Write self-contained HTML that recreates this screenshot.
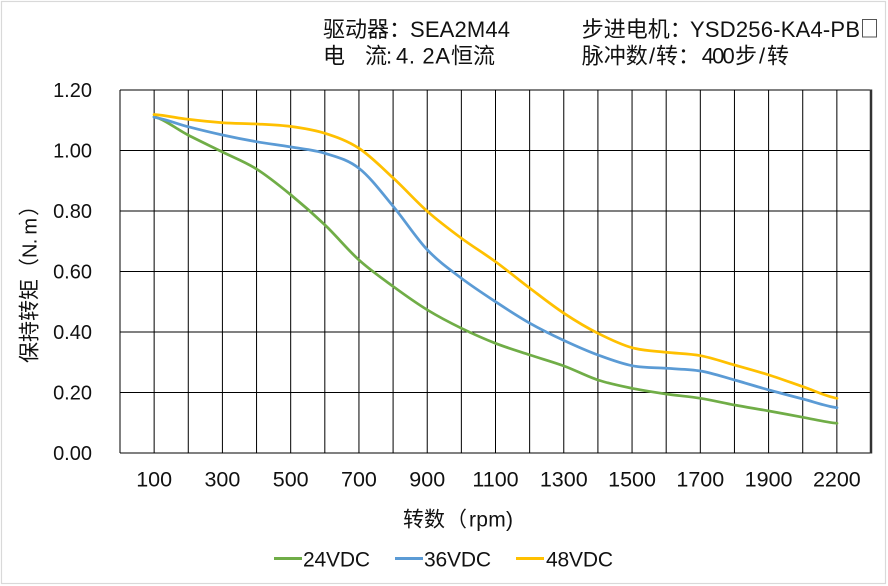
<!DOCTYPE html>
<html>
<head>
<meta charset="utf-8">
<style>
  html, body { margin: 0; padding: 0; background: #ffffff; }
  body { width: 888px; height: 586px; overflow: hidden; }
  svg { display: block; }
  text { font-family: "Liberation Sans", "Noto Sans CJK SC", sans-serif; fill: #111; }
</style>
</head>
<body>
<svg width="888" height="586" viewBox="0 0 888 586" xmlns="http://www.w3.org/2000/svg">
  <rect x="0" y="0" width="888" height="586" fill="#ffffff"/>
  <!-- outer frame -->
  <rect x="1.5" y="1.5" width="884" height="582" fill="none" stroke="#d9d9d9" stroke-width="1.2"/>

  <!-- header -->
  <g font-size="22">
    <text x="323" y="37">驱动器：</text>
    <text x="410" y="37" textLength="100" lengthAdjust="spacing">SEA2M44</text>
    <text x="581.7" y="37">步进电机：</text>
    <text x="690" y="37" textLength="170" lengthAdjust="spacing">YSD256-KA4-PB</text>
    <rect x="862.5" y="19.5" width="14" height="17.5" fill="none" stroke="#555" stroke-width="1"/>

    <text x="323" y="63.5">电</text>
    <text x="365" y="63.5">流</text>
    <text x="386" y="63.5">:</text>
    <text x="396" y="63.5" textLength="54" lengthAdjust="spacing">4. 2A</text>
    <text x="451" y="63.5">恒流</text>

    <text x="581.7" y="63.5">脉冲数</text>
    <text x="649" y="63.5">/</text>
    <text x="656" y="63.5">转：</text>
    <text x="701.7" y="63.5" textLength="33" lengthAdjust="spacing">400</text>
    <text x="735" y="63.5">步</text>
    <text x="759" y="63.5">/</text>
    <text x="767" y="63.5">转</text>
  </g>

  <!-- grid -->
  <g stroke="#000" stroke-width="1" fill="none">
    <path d="M120,90V453 M154.14,90V453 M188.27,90V453 M222.41,90V453 M256.55,90V453 M290.68,90V453 M324.82,90V453 M358.95,90V453 M393.09,90V453 M427.23,90V453 M461.36,90V453 M495.5,90V453 M529.64,90V453 M563.77,90V453 M597.91,90V453 M632.05,90V453 M666.18,90V453 M700.32,90V453 M734.45,90V453 M768.59,90V453 M802.73,90V453 M836.86,90V453"/>
    <path d="M120,90H871 M120,150.5H871 M120,211H871 M120,271.5H871 M120,332H871 M120,392.5H871 M120,453H871"/>
  </g>
  <line x1="871" y1="89.5" x2="871" y2="453.5" stroke="#333" stroke-width="2.5"/>

  <!-- y labels -->
  <g font-size="20" text-anchor="end">
    <text x="92" y="97">1.20</text>
    <text x="92" y="157.3">1.00</text>
    <text x="92" y="217.8">0.80</text>
    <text x="92" y="278.3">0.60</text>
    <text x="92" y="338.8">0.40</text>
    <text x="92" y="399.3">0.20</text>
    <text x="92" y="459.8">0.00</text>
  </g>

  <!-- x labels -->
  <g font-size="21.5" text-anchor="middle">
    <text x="154.14" y="486.5">100</text>
    <text x="222.41" y="486.5">300</text>
    <text x="290.68" y="486.5">500</text>
    <text x="358.95" y="486.5">700</text>
    <text x="427.23" y="486.5">900</text>
    <text x="495.5" y="486.5">1100</text>
    <text x="563.77" y="486.5">1300</text>
    <text x="632.05" y="486.5">1500</text>
    <text x="700.32" y="486.5">1700</text>
    <text x="768.59" y="486.5">1900</text>
    <text x="836.86" y="486.5">2200</text>
  </g>

  <!-- axis titles -->
  <g font-size="21">
    <text x="403" y="526.5">转数</text>
    <text x="446" y="526.5">（</text>
    <text x="469" y="526.5" textLength="44" lengthAdjust="spacing">rpm)</text>
  </g>
  <g font-size="21">
    <text transform="translate(36.5,363) rotate(-90)">保持转矩</text>
    <text transform="translate(36.5,279) rotate(-90)">（</text>
    <text transform="translate(36.5,258) rotate(-90)" font-size="20" textLength="40" lengthAdjust="spacing">N. m</text>
    <text transform="translate(36.5,216) rotate(-90)">）</text>
  </g>

  <!-- series -->
  <g fill="none" stroke-width="2.75" stroke-linecap="round" stroke-linejoin="round">
    <path stroke="#70AD47" d="M154,116.7 C165.4,119.75 176.6,129.12 188,135 C199.4,140.88 211.1,146.33 222.5,152 C233.9,157.67 245.1,161.83 256.5,169 C267.9,176.17 279.6,185.67 291,195 C302.4,204.33 313.6,214.17 325,225 C336.4,235.83 347.6,249.72 359,260 C370.4,270.28 382.1,278.37 393.5,286.7 C404.9,295.03 416.1,303.07 427.5,310 C438.9,316.93 450.1,322.75 461.5,328.3 C472.9,333.85 484.1,338.85 495.5,343.3 C506.9,347.75 518.6,351.22 530,355 C541.4,358.78 552.6,361.83 564,366 C575.4,370.17 586.6,376.28 598,380 C609.4,383.72 620.6,385.97 632,388.3 C643.4,390.63 654.6,392.33 666,394 C677.4,395.67 689.1,396.47 700.5,398.3 C711.9,400.13 723.1,402.88 734.5,405 C745.9,407.12 757.6,408.95 769,411 C780.4,413.05 791.6,415.25 803,417.3 C814.4,419.35 825.6,422.3 837,423.3"/>
    <path stroke="#5B9BD5" d="M154,117.3 C165.4,118.87 176.6,123.75 188,126.7 C199.4,129.65 211.1,132.5 222.5,135 C233.9,137.5 245.1,139.7 256.5,141.7 C267.9,143.7 279.6,145.07 291,147 C302.4,148.93 313.6,149.75 325,153.3 C336.4,156.85 347.6,159.4 359,168.3 C370.4,177.2 382.1,193.08 393.5,206.7 C404.9,220.32 416.1,238.07 427.5,250 C438.9,261.93 450.1,269.68 461.5,278.3 C472.9,286.92 484.1,294.2 495.5,301.7 C506.9,309.2 518.6,316.83 530,323.3 C541.4,329.77 552.6,335.22 564,340.5 C575.4,345.78 586.6,350.8 598,355 C609.4,359.2 620.6,363.48 632,365.7 C643.4,367.92 654.6,367.42 666,368.3 C677.4,369.18 689.1,369.05 700.5,371 C711.9,372.95 723.1,376.83 734.5,380 C745.9,383.17 757.6,386.83 769,390 C780.4,393.17 791.6,396.05 803,399 C814.4,401.95 825.6,406.25 837,407.7"/>
    <path stroke="#FFC000" d="M154,114.5 C165.4,115.3 176.6,117.9 188,119.3 C199.4,120.7 211.1,121.9 222.5,122.7 C233.9,123.5 245.1,123.4 256.5,124 C267.9,124.6 279.6,125 291,126.5 C302.4,128 313.6,129.7 325,133.3 C336.4,136.9 347.6,140.8 359,148.3 C370.4,155.8 382.1,167.8 393.5,178.3 C404.9,188.8 416.1,201.5 427.5,211.5 C438.9,221.5 450.1,229.9 461.5,238.3 C472.9,246.7 484.1,253.4 495.5,261.7 C506.9,270 518.6,279.7 530,288.3 C541.4,296.9 552.6,305.8 564,313.3 C575.4,320.8 586.6,327.6 598,333.3 C609.4,339 620.6,344.5 632,347.7 C643.4,350.9 654.6,351 666,352.3 C677.4,353.6 689.1,353.6 700.5,355.7 C711.9,357.8 723.1,361.8 734.5,365 C745.9,368.2 757.6,371.4 769,375 C780.4,378.6 791.6,382.8 803,386.7 C814.4,390.6 825.6,396.4 837,398.3"/>
  </g>

  <!-- legend -->
  <g stroke-width="3">
    <line x1="274" y1="558.5" x2="302" y2="558.5" stroke="#70AD47"/>
    <line x1="395" y1="558.5" x2="423" y2="558.5" stroke="#5B9BD5"/>
    <line x1="516" y1="558.5" x2="544" y2="558.5" stroke="#FFC000"/>
  </g>
  <g font-size="21">
    <text x="303" y="566.5" textLength="67" lengthAdjust="spacing">24VDC</text>
    <text x="424" y="566.5" textLength="67" lengthAdjust="spacing">36VDC</text>
    <text x="546" y="566.5" textLength="67" lengthAdjust="spacing">48VDC</text>
  </g>
</svg>
</body>
</html>
